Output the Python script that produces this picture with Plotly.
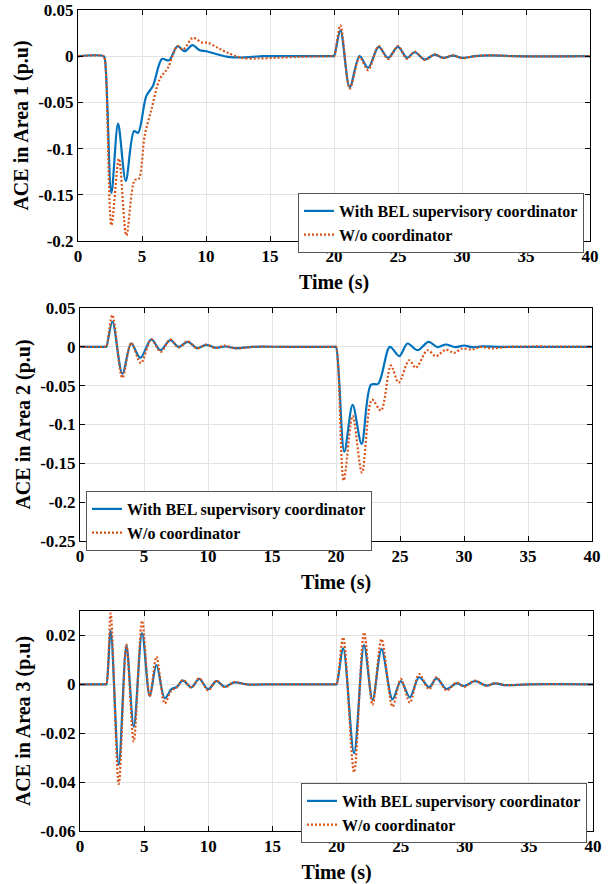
import plotly.graph_objects as go

# ---------------- data ----------------
# Area 1
t1_bel = [0, 2.0, 2.1, 2.61, 3.13, 3.73, 4.38, 4.69, 5.34, 5.86, 6.56, 7.11, 7.77, 8.34, 8.94, 9.51,
          10.03, 10.94, 11.72, 12.76, 14.5, 17, 19.9, 20.0, 20.5, 21.23, 22.0, 22.66, 23.49, 24.22,
          25.0, 25.7, 26.3, 27.09, 27.87, 28.52, 29.3, 30.0, 31, 32.2, 34, 40]
v1_bel = [0, 0, -0.003, -0.148, -0.073, -0.135, -0.081, -0.083, -0.043, -0.032, -0.003, -0.0045,
          0.0108, 0.0054, 0.0119, 0.0065, 0.0054, 0.0018, -0.0007, -0.0014, 0, 0, 0, 0, 0.028,
          -0.0335, 0, -0.0125, 0.0101, -0.0018, 0.0101, -0.0018, 0.0043, -0.0036, 0.0018, -0.0018,
          0.0007, -0.0018, 0, 0.001, 0, 0]
t1_wo = [0, 2.0, 2.1, 2.61, 3.2, 3.78, 4.43, 4.74, 5.21, 5.73, 6.38, 7.03, 7.77, 8.21, 8.98, 9.64,
         10.16, 10.94, 11.72, 12.76, 14.06, 15.4, 17.4, 19.9, 20.0, 20.5, 21.23, 22.0, 22.66, 23.49,
         24.22, 25.0, 25.7, 26.3, 27.09, 27.87, 28.52, 29.3, 30.0, 31, 32.2, 34, 40]
v1_wo = [0, 0, -0.003, -0.183, -0.111, -0.194, -0.134, -0.133, -0.086, -0.058, -0.025, -0.0125,
         0.0108, 0.0072, 0.0199, 0.015, 0.0144, 0.009, 0.0036, -0.0018, -0.0025, -0.0018, -0.0007,
         0, 0, 0.0335, -0.035, -0.001, -0.015, 0.011, -0.003, 0.011, -0.003, 0.005, -0.004, 0.002,
         -0.002, 0.001, -0.002, 0, 0.001, 0, 0]

# Area 2
t2_bel = [0, 2.0, 2.06, 2.53, 3.31, 4.0, 4.71, 5.57, 6.29, 7.05, 7.7, 8.43, 9.15, 9.85, 10.6, 11.34,
          12.07, 13.5, 16, 19.9, 20.0, 20.65, 21.3, 22.0, 22.73, 23.3, 24.21, 24.94, 25.59, 26.37,
          27.23, 27.93, 28.58, 29.3, 30.0, 30.66, 31.44, 33, 40]
v2_bel = [0, 0, 0, 0.0324, -0.0346, 0.0043, -0.0143, 0.0095, -0.0043, 0.0086, 0, 0.0065, -0.0017,
          0.0026, -0.0013, 0.0004, -0.0017, 0, 0, 0, 0, -0.135, -0.0747, -0.125, -0.0488, -0.0475,
          0, -0.012, 0.0043, -0.0043, 0.0065, -0.0004, 0.003, -0.0004, 0.0017, -0.0005, 0.0005, 0, 0]
t2_wo = [0, 2.0, 2.06, 2.53, 3.31, 4.0, 4.75, 5.57, 6.3, 7.05, 7.7, 8.4, 9.15, 9.85, 10.6, 11.3,
         12.07, 13.5, 16, 19.9, 20.0, 20.6, 21.3, 22.03, 22.81, 23.51, 24.29, 24.89, 25.72, 26.24,
         27.15, 27.8, 28.58, 29.22, 29.87, 30.66, 31.3, 32.2, 33.5, 40]
v2_wo = [0, 0, 0, 0.041, -0.040, 0.005, -0.021, 0.0095, -0.0065, 0.0095, -0.001, 0.0073, -0.002,
         0.003, -0.0015, 0.0017, -0.002, 0, 0, 0, 0, -0.172, -0.089, -0.162, -0.068, -0.082, -0.024,
         -0.046, -0.0173, -0.027, -0.0044, -0.012, -0.0035, -0.0078, -0.0022, -0.0035, 0, -0.002, 0, 0]

# Area 3
t3 = [0, 2.0, 2.06, 2.39, 3.02, 3.62, 4.19, 4.84, 5.44, 5.96, 6.61, 7.13, 7.52, 8.03, 8.69, 9.29,
      9.99, 10.64, 11.29, 12.02, 13, 15, 19.9, 20.0, 20.52, 21.37, 22.15, 22.81, 23.51, 24.37, 25.02,
      25.72, 26.44, 27.22, 27.8, 28.58, 29.36, 29.96, 30.79, 31.7, 32.35, 33.1, 35, 40]
v3_bel = [0, 0, 0, 0.0219, -0.0329, 0.0158, -0.0173, 0.021, -0.0048, 0.0079, -0.0057, -0.002,
          -0.0012, 0.0015, -0.0012, 0.0022, -0.002, 0.0013, -0.001, 0.0008, 0, 0, 0, 0, 0.0147,
          -0.0282, 0.016, -0.0064, 0.0144, -0.0061, 0.0013, -0.0053, 0.0029, -0.0012, 0.0024,
          -0.0019, 0.0004, -0.0007, 0.0013, -0.0005, 0.0004, -0.0003, 0, 0]
v3_wo = [0, 0, 0, 0.029, -0.0408, 0.0163, -0.0234, 0.026, -0.005, 0.0113, -0.0078, -0.0025,
         -0.0014, 0.0018, -0.0014, 0.0025, -0.0025, 0.0015, -0.0012, 0.0009, 0, 0, 0, 0, 0.0192,
         -0.036, 0.0212, -0.0084, 0.0185, -0.0091, 0.0022, -0.0075, 0.0042, -0.002, 0.0029, -0.0025,
         0.0007, -0.001, 0.0015, -0.0006, 0.0005, -0.0003, 0, 0]

x_ticks = [0, 5, 10, 15, 20, 25, 30, 35, 40]
x_ticktext = ["0", "5", "10", "15", "20", "25", "30", "35", "40"]
y1_ticks = [0.05, 0, -0.05, -0.1, -0.15, -0.2]
y1_ticktext = ["0.05", "0", "-0.05", "-0.1", "-0.15", "-0.2"]
y2_ticks = [0.05, 0, -0.05, -0.1, -0.15, -0.2, -0.25]
y2_ticktext = ["0.05", "0", "-0.05", "-0.1", "-0.15", "-0.2", "-0.25"]
y3_ticks = [0.02, 0, -0.02, -0.04, -0.06]
y3_ticktext = ["0.02", "0", "-0.02", "-0.04", "-0.06"]

name_bel = "With BEL supervisory coordinator"
name_wo = "W/o coordinator"
y_titles = ["ACE in Area 1 (p.u)", "ACE in Area 2 (p.u)", "ACE in Area 3 (p.u)"]

# ---------------- figure ----------------
W, H = 611, 884
BLUE = "#0072BD"
ORANGE = "#D95319"
FONT = "Liberation Serif"

fig = go.Figure()

series = [
    (t1_bel, v1_bel, t1_wo, v1_wo, "x", "y", "legend"),
    (t2_bel, v2_bel, t2_wo, v2_wo, "x2", "y2", "legend2"),
    (t3, v3_bel, t3, v3_wo, "x3", "y3", "legend3"),
]
for tb, vb, tw, vw, xa, ya, lg in series:
    fig.add_trace(go.Scatter(x=tb, y=vb, mode="lines", name=name_bel, xaxis=xa, yaxis=ya,
                             legend=lg, line=dict(color=BLUE, width=2.2, shape="spline",
                                                  smoothing=0.9)))
    fig.add_trace(go.Scatter(x=tw, y=vw, mode="lines", name=name_wo, xaxis=xa, yaxis=ya,
                             legend=lg, line=dict(color=ORANGE, width=2.2, dash="2px,2px",
                                                  shape="spline", smoothing=0.9)))

# pixel boxes (left, right, top, bottom)
boxes = [(78, 590, 10, 241), (80, 592, 308, 541), (80, 593, 611, 831)]
yranges = [[-0.2, 0.05], [-0.25, 0.05], [-0.06, 0.03]]
yticks = [(y1_ticks, y1_ticktext), (y2_ticks, y2_ticktext), (y3_ticks, y3_ticktext)]
legend_pos = [(584, 193, "right"), (86, 491, "left"), (587, 783, "right")]

axis_common = dict(showline=True, linecolor="black", linewidth=1, mirror="ticks",
                   ticks="inside", ticklen=5, tickcolor="black", showgrid=True,
                   gridcolor="#e3e3e3", gridwidth=1, zeroline=False, automargin=False,
                   tickfont=dict(family=FONT, size=17, color="black", weight="bold"),
                   tickmode="array")

layout = dict(width=W, height=H, margin=dict(l=0, r=0, t=0, b=0, autoexpand=False),
              paper_bgcolor="white", plot_bgcolor="white", showlegend=True)

for i, ((l, r, t, b), yr, (tv, tt), (lx, ly, anchor)) in enumerate(
        zip(boxes, yranges, yticks, legend_pos)):
    sfx = "" if i == 0 else str(i + 1)
    layout["xaxis" + sfx] = dict(axis_common, domain=[l / W, r / W], range=[0, 40],
                                 anchor="y" + sfx, tickvals=x_ticks, ticktext=x_ticktext,
                                 title=dict(text="Time (s)", standoff=9,
                                            font=dict(family=FONT, size=20, color="black",
                                                      weight="bold")))
    layout["yaxis" + sfx] = dict(axis_common, domain=[1 - b / H, 1 - t / H], range=yr,
                                 anchor="x" + sfx, tickvals=tv, ticktext=tt,
                                 title=dict(text=y_titles[i], standoff=4,
                                            font=dict(family=FONT, size=20, color="black",
                                                      weight="bold")))
    layout["legend" + sfx] = dict(x=lx / W, y=1 - ly / H, xanchor=anchor, yanchor="top",
                                  bgcolor="white", bordercolor="#555555", borderwidth=1,
                                  font=dict(family=FONT, size=16, color="black", weight="bold"),
                                  tracegroupgap=0, itemwidth=30)

fig.update_layout(**layout)
fig.write_html("out.html", config={"displayModeBar": False},
               post_script="document.body.style.margin='0';document.body.style.overflow='hidden';")
